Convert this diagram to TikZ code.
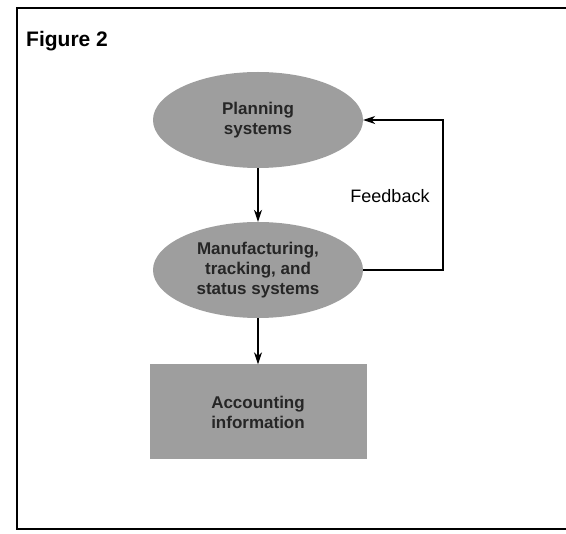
\documentclass[tikz,border=0pt]{standalone}
\usepackage{fontspec}
\setmainfont{Liberation Sans}
\usetikzlibrary{shapes.geometric, arrows.meta, positioning}
\tikzstyle{arrow} = [line width=1.2pt,-{Stealth[length=12pt,width=8pt]}]
\tikzstyle{sysstate} = [ellipse, minimum width=210pt, minimum height=96pt, inner sep=0pt, fill=black!38, text=black!85, align=center, font=\fontsize{17}{20}\selectfont\bfseries]
\tikzstyle{infobox} = [rectangle, minimum width=217pt, minimum height=95pt, fill=black!38, text=black!85, align=center, font=\fontsize{17}{20}\selectfont\bfseries]

\begin{document}
\begin{tikzpicture}[x=1pt,y=-1pt,node distance=150pt,on grid]
	\useasboundingbox (0,0) rectangle (566,534);
	% frame, open on the right
	\draw[line width=1.2pt] (566,8) -- (17,8) -- (17,529) -- (566,529);
	\node[anchor=base west,inner sep=0pt,font=\fontsize{21}{24}\selectfont\bfseries](title) at (26,47){Figure 2};

	\node[sysstate](plan) at (258,120){Planning\\systems};
	\node[sysstate](man)[below=150pt of plan]{Manufacturing,\\tracking, and\\status systems};
	\node[infobox](acc)[below=142pt of man]{Accounting\\information};
	\coordinate (fb) at (443,0);
	\node[font=\fontsize{18}{20}\selectfont](fbl) at (390,196){Feedback};

	\draw[arrow] (plan) -- (man);
	\draw[arrow] (man) -- (acc);
	\draw[arrow] (man.east) -- (man.east -| fb) -- (plan.east -| fb) -- (plan.east);
\end{tikzpicture}
\end{document}
